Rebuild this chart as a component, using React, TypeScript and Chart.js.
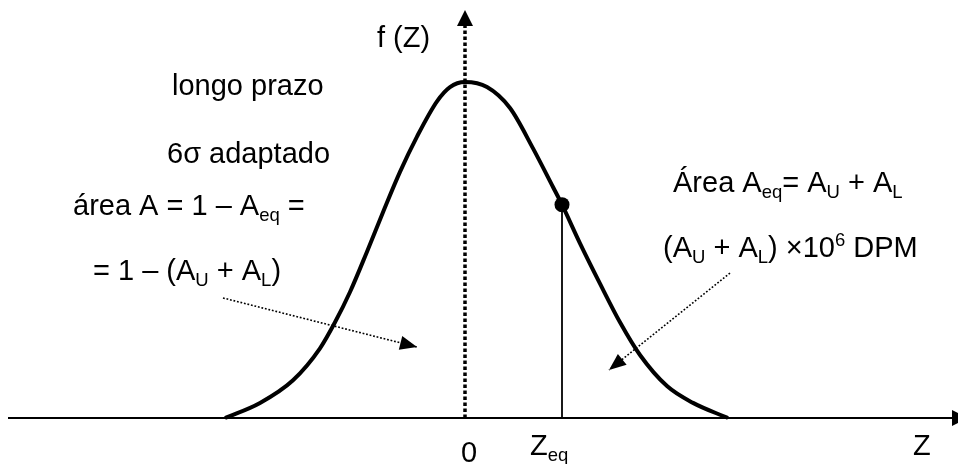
import React, { useEffect, useRef } from "react";
import { Chart, registerables } from "chart.js";

Chart.register(...registerables);

// ---- data ----
// Z values along the bell curve and its height f(Z)
const curveZ = [-2.4, -2.05, -1.72, -1.45, -1.3, -1.15, -0.98, -0.82, -0.65, -0.48, -0.28, -0.15, 0, 0.22, 0.45, 0.68, 0.88, 0.97, 1.15, 1.35, 1.55, 1.75, 2.02, 2.28, 2.63];
const curveF = [0, 0.018, 0.045, 0.083, 0.114, 0.15, 0.198, 0.245, 0.293, 0.335, 0.377, 0.394, 0.4, 0.394, 0.369, 0.321, 0.275, 0.254, 0.208, 0.16, 0.114, 0.075, 0.038, 0.018, 0];
// equivalent Z point
const zEq = 0.97;
const fEq = 0.254;
// axis extents
const zAxis = [-4.57, 5.03];
const fAxis = [0, 0.4857];
// annotation arrows [fromZ, fromF, toZ, toF]
const arrowInside = [-2.42, 0.1429, -0.48, 0.0845];
const arrowTail = [2.65, 0.1726, 1.44, 0.0571];

// ---- texts ----
type Seg = { t: string; k?: "sub" | "sup" };
const labels: { segs: Seg[]; x: number; y: number; align?: "left" | "center" }[] = [
  { segs: [{ t: "f (Z)" }], x: -0.88, y: 0.4417 },
  { segs: [{ t: "longo prazo" }], x: -2.93, y: 0.3845 },
  { segs: [{ t: "6σ adaptado" }], x: -2.98, y: 0.3036 },
  { segs: [{ t: "área A = 1 – A" }, { t: "eq", k: "sub" }, { t: " =" }], x: -3.92, y: 0.2417 },
  { segs: [{ t: "= 1 – (A" }, { t: "U", k: "sub" }, { t: " + A" }, { t: "L", k: "sub" }, { t: ")" }], x: -3.72, y: 0.1643 },
  { segs: [{ t: "Área A" }, { t: "eq", k: "sub" }, { t: "= A" }, { t: "U", k: "sub" }, { t: " + A" }, { t: "L", k: "sub" }], x: 2.08, y: 0.269 },
  { segs: [{ t: "(A" }, { t: "U", k: "sub" }, { t: " + A" }, { t: "L", k: "sub" }, { t: ") ×10" }, { t: "6", k: "sup" }, { t: " DPM" }], x: 1.98, y: 0.1917 },
  { segs: [{ t: "0" }], x: 0.04, y: -0.0524, align: "center" },
  { segs: [{ t: "Z" }, { t: "eq", k: "sub" }], x: 0.65, y: -0.044 },
  { segs: [{ t: "Z" }], x: 4.48, y: -0.044 },
];

const FONT = "'Liberation Sans', Arial, Helvetica, sans-serif";
const BIG = 29;
const SMALL = 18.5;

function drawRich(ctx: CanvasRenderingContext2D, x: number, y: number, segs: Seg[], align: "left" | "center" = "left") {
  let w = 0;
  const widths: number[] = [];
  for (const s of segs) {
    ctx.font = `${s.k ? SMALL : BIG}px ${FONT}`;
    const m = ctx.measureText(s.t).width;
    widths.push(m);
    w += m;
  }
  let cx = align === "center" ? x - w / 2 : x;
  ctx.textAlign = "left";
  ctx.textBaseline = "alphabetic";
  segs.forEach((s, i) => {
    ctx.font = `${s.k ? SMALL : BIG}px ${FONT}`;
    const dy = s.k === "sub" ? 6 : s.k === "sup" ? -11 : 0;
    ctx.fillText(s.t, cx, y + dy);
    cx += widths[i];
  });
}

function head(ctx: CanvasRenderingContext2D, fx: number, fy: number, tx: number, ty: number, len: number, hw: number) {
  const dx = tx - fx;
  const dy = ty - fy;
  const d = Math.hypot(dx, dy) || 1;
  const ux = dx / d;
  const uy = dy / d;
  const bx = tx - ux * len;
  const by = ty - uy * len;
  ctx.beginPath();
  ctx.moveTo(tx, ty);
  ctx.lineTo(bx - uy * hw, by + ux * hw);
  ctx.lineTo(bx + uy * hw, by - ux * hw);
  ctx.closePath();
  ctx.fill();
}

const decorPlugin = {
  id: "decor",
  afterDatasetsDraw(chart: any) {
    const ctx: CanvasRenderingContext2D = chart.ctx;
    const xs = chart.scales.x;
    const ys = chart.scales.y;
    const px = (v: number) => xs.getPixelForValue(v);
    const py = (v: number) => ys.getPixelForValue(v);
    ctx.save();
    ctx.fillStyle = "#000";
    // axis heads
    head(ctx, px(0), py(0), px(0), py(fAxis[1]), 16, 8);
    head(ctx, px(zAxis[0]), py(0), px(zAxis[1]), py(0), 16, 8);
    // annotation arrow heads
    head(ctx, px(arrowInside[0]), py(arrowInside[1]), px(arrowInside[2]), py(arrowInside[3]), 17, 7);
    head(ctx, px(arrowTail[0]), py(arrowTail[1]), px(arrowTail[2]), py(arrowTail[3]), 17, 7);
    // labels
    for (const l of labels) drawRich(ctx, px(l.x), py(l.y), l.segs, l.align || "left");
    ctx.restore();
  },
};

export default function App() {
  const ref = useRef<HTMLCanvasElement | null>(null);
  useEffect(() => {
    if (!ref.current) return;
    const line = (data: { x: number; y: number }[], extra: any = {}) => ({
      type: "line",
      data,
      borderColor: "#000",
      backgroundColor: "#000",
      borderWidth: 1.8,
      pointRadius: 0,
      fill: false,
      tension: 0,
      clip: false,
      ...extra,
    });
    const chart = new Chart(ref.current, {
      type: "line",
      data: {
        datasets: [
          line(curveZ.map((z, i) => ({ x: z, y: curveF[i] })), { borderWidth: 4, cubicInterpolationMode: "monotone", borderJoinStyle: "round" }),
          line([{ x: zEq, y: fEq }], { showLine: false, pointRadius: 7.5, pointBorderWidth: 0 }),
          line([{ x: zEq, y: 0 }, { x: zEq, y: fEq }], { borderWidth: 1.8 }),
          line([{ x: zAxis[0], y: 0 }, { x: zAxis[1], y: 0 }], { borderWidth: 1.8 }),
          line([{ x: 0, y: fAxis[0] }, { x: 0, y: fAxis[1] - 0.01 }], { borderWidth: 3.5, borderDash: [3.5, 2.5] }),
          line([{ x: arrowInside[0], y: arrowInside[1] }, { x: arrowInside[2], y: arrowInside[3] }], { borderWidth: 1.6, borderDash: [1.8, 1.8] }),
          line([{ x: arrowTail[0], y: arrowTail[1] }, { x: arrowTail[2], y: arrowTail[3] }], { borderWidth: 1.6, borderDash: [1.8, 1.8] }),
        ] as any,
      },
      options: {
        animation: false,
        responsive: false,
        devicePixelRatio: 1,
        layout: { padding: 0, autoPadding: false },
        plugins: { legend: { display: false }, tooltip: { enabled: false }, title: { display: false } },
        events: [],
        scales: {
          x: { type: "linear", display: false, min: -4.65, max: 4.93 },
          y: { type: "linear", display: false, min: -0.054762, max: 0.497619 },
        },
      } as any,
      plugins: [decorPlugin],
    });
    return () => chart.destroy();
  }, []);
  return (
    <div style={{ position: "absolute", left: 0, top: 0, width: 958, height: 464, background: "#fff" }}>
      <canvas ref={ref} width={958} height={464} style={{ display: "block", width: 958, height: 464 }} />
    </div>
  );
}
